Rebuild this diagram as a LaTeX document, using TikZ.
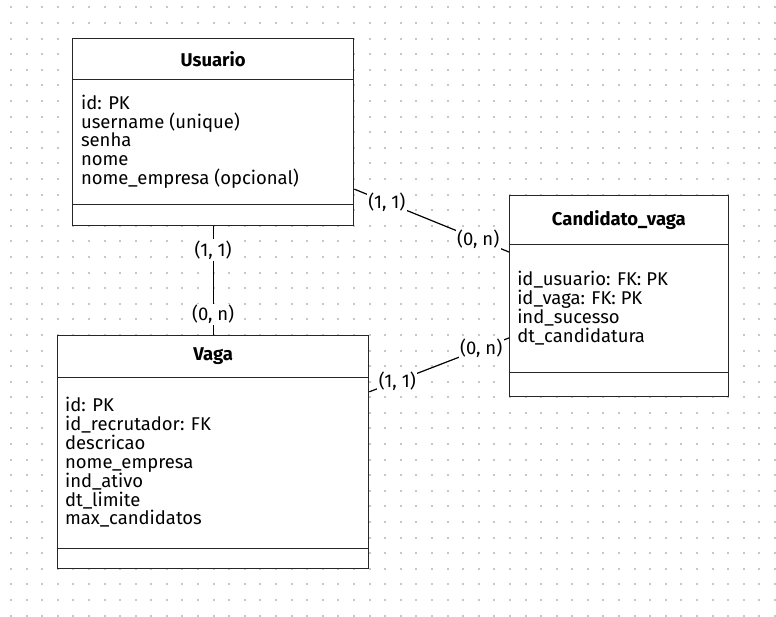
\documentclass[tikz,border=0pt]{standalone}
\usepackage{fontspec}
\setmainfont{Fira Sans}
\usetikzlibrary{positioning}

\begin{document}
\begin{tikzpicture}[x=1pt, y=-1pt, font=\fontsize{18.5}{19}\selectfont]
\tikzset{
  entity/.style={rectangle, draw=black!85, line width=1pt, fill=white, anchor=north west, inner sep=0pt},
  sep/.style={draw=black!85, line width=1pt},
  title/.style={font=\fontsize{18.5}{19}\selectfont\bfseries},
  attrs/.style={anchor=west, align=left, inner sep=0pt},
  rel/.style={line width=1.2pt, black},
  card/.style={fill=white, inner sep=1.5pt},
  griddot/.style={fill=black!22},
}
% dotted background
\fill[white] (0,0) rectangle (776,618);
\foreach \i in {0,...,49}
  \foreach \j in {0,...,39}
    \fill[griddot] (10+15.62*\i,6.5+15.62*\j) rectangle ++(2,2);

% Usuario
\node[entity, minimum width=282pt, minimum height=187pt] (usuario) at (72,38) {};
\draw[sep] ([yshift=-42pt]usuario.north west) -- ([yshift=-42pt]usuario.north east);
\draw[sep] ([yshift=21pt]usuario.south west) -- ([yshift=21pt]usuario.south east);
\node[title] (usuario-t) at ([yshift=-21pt]usuario.north) {Usuario};
\node[attrs] (usuario-a) at ([xshift=9pt, yshift=-104pt]usuario.north west)
  {id: PK\\username (unique)\\senha\\nome\\nome\_empresa (opcional)};

% Candidato_vaga
\node[entity, minimum width=219pt, minimum height=202pt] (candidato) at (510,195) {};
\draw[sep] ([yshift=-50pt]candidato.north west) -- ([yshift=-50pt]candidato.north east);
\draw[sep] ([yshift=25pt]candidato.south west) -- ([yshift=25pt]candidato.south east);
\node[title] (candidato-t) at ([yshift=-25pt]candidato.north) {Candidato\_vaga};
\node[attrs] (candidato-a) at ([xshift=8pt, yshift=-113.5pt]candidato.north west)
  {id\_usuario: FK: PK\\id\_vaga: FK: PK\\ind\_sucesso\\dt\_candidatura};

% Vaga
\node[entity, minimum width=312pt, minimum height=233pt] (vaga) at (57,336) {};
\draw[sep] ([yshift=-42pt]vaga.north west) -- ([yshift=-42pt]vaga.north east);
\draw[sep] ([yshift=21pt]vaga.south west) -- ([yshift=21pt]vaga.south east);
\node[title] (vaga-t) at ([yshift=-21pt]vaga.north) {Vaga};
\node[attrs] (vaga-a) at ([xshift=8pt, yshift=-127pt]vaga.north west)
  {id: PK\\id\_recrutador: FK\\descricao\\nome\_empresa\\ind\_ativo\\dt\_limite\\max\_candidatos};

% relationships
\draw[rel] (usuario.south) -- node[card, pos=0.22] (uv-1) {(1, 1)}
  node[card, pos=0.81] (uv-n) {(0, n)} (vaga.north);
\draw[rel] ([yshift=-57.5pt]usuario.east) -- node[card, pos=0.21] (uc-1) {(1, 1)}
  node[card, pos=0.8] (uc-n) {(0, n)} ([yshift=44pt]candidato.west);
\draw[rel] ([yshift=60.5pt]vaga.east) -- node[card, pos=0.2] (vc-1) {(1, 1)}
  node[card, pos=0.8] (vc-n) {(0, n)} ([yshift=-42pt]candidato.west);
\end{tikzpicture}
\end{document}
